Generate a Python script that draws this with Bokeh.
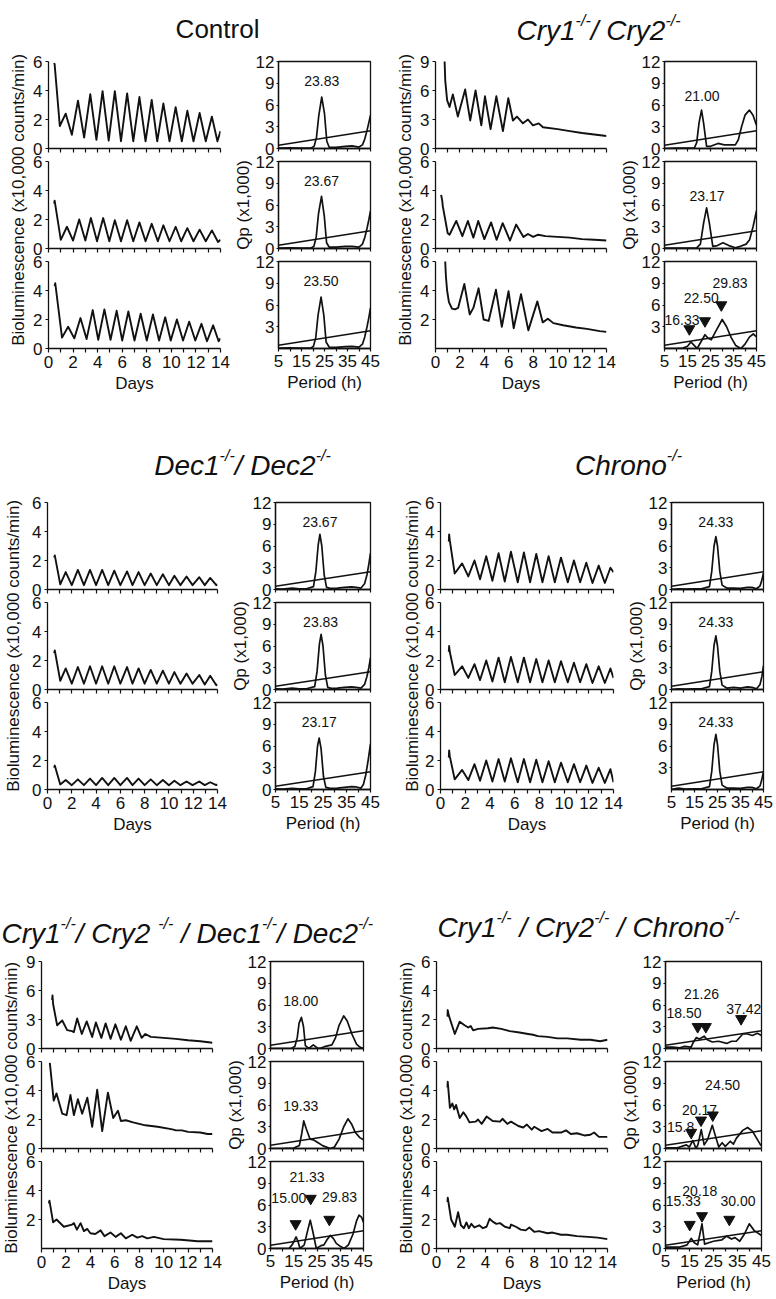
import math
from bokeh.plotting import figure
from bokeh.layouts import row, column
from bokeh.models import Range1d, FixedTicker
from bokeh.core.properties import value
from bokeh.embed import file_html
from bokeh.resources import INLINE

# ======================= DATA =======================
days_ticks = [0, 2, 4, 6, 8, 10, 12, 14]
days_minor = [1, 3, 5, 7, 9, 11, 13]
period_ticks = [5, 15, 25, 35, 45]
period_minor = [10, 20, 30, 40]
qp_ticks = [0, 3, 6, 9, 12]
qp_ticks_no0 = [3, 6, 9, 12]
sig_h = [5, 45]
sig_qp = [0.45, 2.45]

# ---- Control ----
ctrl_t1_day = [0.46, 0.5, 0.92, 1.4, 1.9, 2.4, 2.9, 3.4, 3.9, 4.4, 4.9, 5.4, 5.9, 6.4, 6.9, 7.4, 7.9, 8.4, 8.85, 9.35, 9.85, 10.35, 10.85, 11.3, 11.8, 12.3, 12.8, 13.3, 13.75, 14.0]
ctrl_t1_val = [5.9, 5.8, 1.55, 2.4, 0.95, 3.3, 0.75, 3.75, 0.6, 3.95, 0.55, 3.95, 0.5, 3.8, 0.5, 3.55, 0.5, 3.35, 0.5, 3.1, 0.5, 2.85, 0.5, 2.6, 0.5, 2.45, 0.5, 2.2, 0.5, 1.2]
ctrl_t2_day = [0.46, 0.5, 1.0, 1.5, 2.0, 2.5, 3.0, 3.45, 3.95, 4.45, 4.95, 5.4, 5.9, 6.4, 6.9, 7.4, 7.9, 8.4, 8.9, 9.35, 9.85, 10.35, 10.8, 11.3, 11.8, 12.3, 12.8, 13.3, 13.8, 14.0]
ctrl_t2_val = [3.1, 3.3, 0.6, 1.5, 0.55, 2.0, 0.55, 2.1, 0.5, 2.1, 0.5, 1.95, 0.5, 1.95, 0.5, 1.8, 0.5, 1.7, 0.5, 1.6, 0.5, 1.5, 0.5, 1.4, 0.5, 1.3, 0.5, 1.25, 0.45, 0.6]
ctrl_t3_day = [0.5, 0.55, 1.1, 1.6, 2.1, 2.6, 3.1, 3.6, 4.05, 4.55, 5.05, 5.55, 6.0, 6.5, 7.0, 7.5, 8.0, 8.5, 9.0, 9.5, 9.95, 10.45, 10.95, 11.45, 11.95, 12.45, 12.9, 13.4, 13.85, 14.0]
ctrl_t3_val = [4.3, 4.5, 0.75, 1.5, 0.7, 2.1, 0.65, 2.65, 0.6, 2.7, 0.6, 2.6, 0.55, 2.55, 0.55, 2.4, 0.55, 2.35, 0.55, 2.15, 0.55, 2.0, 0.55, 1.85, 0.55, 1.7, 0.5, 1.6, 0.5, 0.7]
ctrl_p1_h = [5, 10, 15, 19, 20.5, 21.5, 22.5, 23.8, 25, 26, 27, 30, 34, 37, 40, 41.5, 42.5, 43.5, 44.3, 45]
ctrl_p1_qp = [0.05, 0.1, 0.05, 0.05, 0.3, 1.5, 4.5, 7.1, 4.8, 1.0, 0.2, 0.15, 0.3, 0.35, 0.2, 0.5, 1.3, 2.5, 3.6, 4.6]
ctrl_p2_h = [5, 10, 15, 19, 20.4, 21.4, 22.4, 23.7, 24.9, 25.9, 27, 30, 34, 37, 40, 41.5, 42.5, 43.5, 44.3, 45]
ctrl_p2_qp = [0.05, 0.1, 0.05, 0.05, 0.3, 1.6, 4.8, 7.2, 4.5, 0.8, 0.2, 0.2, 0.3, 0.3, 0.2, 0.6, 1.5, 2.8, 4.0, 5.2]
ctrl_p3_h = [5, 10, 15, 19, 20.2, 21.2, 22.2, 23.5, 24.7, 25.7, 27, 30, 34, 37, 40, 41.5, 42.5, 43.5, 44.3, 45]
ctrl_p3_qp = [0.05, 0.1, 0.05, 0.05, 0.3, 1.5, 4.6, 7.1, 4.6, 0.9, 0.2, 0.15, 0.25, 0.3, 0.2, 0.6, 1.6, 3.0, 4.3, 5.6]
ctrl_peak_text = ["23.83", "23.67", "23.50"]
ctrl_peak_h = [23.8, 23.7, 23.5]

# ---- Cry1-/-/Cry2-/- ----
cry_t1_day = [0.74, 0.8, 0.95, 1.15, 1.42, 1.83, 2.43, 2.84, 3.28, 3.75, 4.05, 4.51, 4.98, 5.52, 5.96, 6.34, 6.67, 7.16, 7.57, 7.98, 8.45, 8.8, 10.0, 11.0, 12.0, 13.0, 14.0]
cry_t1_val = [9.2, 7.0, 5.0, 4.3, 5.6, 3.3, 6.1, 2.9, 6.0, 2.4, 5.4, 2.0, 5.4, 1.8, 5.2, 2.9, 3.3, 2.6, 3.0, 2.4, 2.6, 2.2, 2.0, 1.8, 1.6, 1.45, 1.3]
cry_t2_day = [0.46, 0.55, 0.6, 1.0, 1.15, 1.7, 2.2, 2.65, 3.1, 3.5, 4.0, 4.55, 5.0, 5.5, 6.1, 6.6, 7.2, 7.57, 8.0, 8.4, 9.0, 10.0, 11.0, 12.0, 13.0, 14.0]
cry_t2_val = [3.7, 3.3, 2.9, 1.05, 0.95, 1.9, 0.85, 1.9, 0.75, 1.9, 0.65, 1.8, 0.6, 1.75, 0.55, 1.65, 0.8, 1.0, 0.8, 0.95, 0.85, 0.8, 0.75, 0.65, 0.6, 0.55]
cry_t3_day = [0.78, 0.85, 0.95, 1.1, 1.35, 1.6, 1.85, 2.36, 2.8, 3.1, 3.53, 3.94, 4.35, 4.95, 5.43, 5.98, 6.4, 7.0, 7.6, 8.34, 8.78, 9.2, 9.65, 10.45, 11.5, 12.4, 13.45, 14.0]
cry_t3_val = [6.3, 5.0, 4.0, 3.2, 2.75, 2.7, 2.8, 4.45, 2.35, 2.8, 4.15, 2.0, 1.9, 4.05, 1.5, 3.95, 1.4, 3.75, 1.25, 3.25, 1.8, 2.05, 1.75, 1.6, 1.45, 1.35, 1.2, 1.15]
cry_p1_h = [5, 10, 15, 18, 19, 20, 21.1, 22, 23.3, 25, 28.3, 31, 35.8, 37.1, 38.5, 40, 41.9, 43.5, 45]
cry_p1_qp = [0.0, 0.05, 0.05, 0.1, 0.8, 3.5, 5.3, 3.5, 0.3, 0.3, 0.7, 0.5, 0.5, 1.2, 3.0, 4.6, 5.3, 4.6, 3.2]
cry_p2_h = [5, 10, 15, 19, 20.6, 22, 23.3, 24.5, 26, 28, 30.4, 33, 35.8, 38, 40.5, 42, 43.5, 45]
cry_p2_qp = [0.05, 0.05, 0.05, 0.1, 0.6, 3.5, 5.6, 3.5, 0.3, 0.4, 0.8, 0.4, 0.1, 0.3, 0.6, 1.2, 3.0, 5.2]
cry_p3_h = [5, 10, 13, 15, 16.5, 18, 19.2, 21, 22.6, 24, 25.3, 27.5, 30.1, 32, 34, 36, 38.2, 40, 42, 43.6, 45]
cry_p3_qp = [0.0, 0.0, 0.05, 0.3, 0.9, 0.4, 0.0, 1.0, 1.9, 1.4, 1.2, 2.5, 4.0, 3.0, 1.5, 0.4, 0.0, 0.6, 1.6, 2.0, 1.6]
cry_p1_text = ["21.00"]
cry_p1_text_h = [21.3]
cry_p1_text_qp = [7.3]
cry_p2_text = ["23.17"]
cry_p2_text_h = [23.5]
cry_p2_text_qp = [7.3]
cry_p3_text = ["16.33", "22.50", "29.83"]
cry_p3_text_h = [12.6, 21.0, 33.5]
cry_p3_text_qp = [3.9, 6.9, 9.1]
cry_p3_mark_h = [15.8, 22.6, 29.7]
cry_p3_mark_qp = [2.7, 3.8, 6.0]

# ---- Dec1-/-/Dec2-/- ----
dec_day = [0.55, 0.6, 1.05, 1.5, 2.0, 2.5, 3.0, 3.5, 4.0, 4.5, 5.0, 5.5, 6.0, 6.55, 7.0, 7.5, 8.0, 8.5, 9.0, 9.5, 10.0, 10.45, 10.95, 11.45, 11.95, 12.5, 12.95, 13.4, 13.9, 14.0]
dec_t1_val = [2.2, 2.35, 0.35, 1.2, 0.3, 1.35, 0.3, 1.35, 0.3, 1.35, 0.3, 1.3, 0.3, 1.25, 0.3, 1.2, 0.3, 1.1, 0.3, 1.05, 0.3, 0.95, 0.3, 0.9, 0.3, 0.85, 0.3, 0.8, 0.3, 0.35]
dec_t2_val = [2.5, 2.7, 0.6, 1.45, 0.4, 1.55, 0.4, 1.6, 0.4, 1.6, 0.4, 1.6, 0.4, 1.55, 0.4, 1.45, 0.4, 1.35, 0.4, 1.3, 0.4, 1.2, 0.4, 1.1, 0.4, 1.0, 0.35, 0.95, 0.3, 0.35]
dec_t3_val = [1.5, 1.65, 0.35, 0.65, 0.3, 0.7, 0.3, 0.75, 0.3, 0.8, 0.3, 0.8, 0.3, 0.8, 0.3, 0.75, 0.3, 0.7, 0.3, 0.65, 0.3, 0.6, 0.3, 0.55, 0.3, 0.55, 0.3, 0.5, 0.3, 0.35]
dec_p1_h = [5, 8, 12, 15, 18, 21, 22, 23, 23.7, 24.5, 25.5, 26.5, 28, 31, 34, 37, 39, 41, 42.5, 43.5, 44.3, 45]
dec_p1_qp = [0.1, 0.05, 0.2, 0.1, 0.1, 0.4, 2.5, 6.2, 7.6, 6.0, 2.0, 0.3, 0.15, 0.2, 0.3, 0.35, 0.3, 0.2, 0.8, 2.0, 3.5, 5.0]
dec_p2_h = [5, 8, 12, 15, 18, 21.5, 22.5, 23.5, 24.2, 25, 26, 27, 28.5, 31, 34, 37, 39, 41, 42.5, 43.5, 44.3, 45]
dec_p2_qp = [0.1, 0.05, 0.2, 0.1, 0.1, 0.4, 2.5, 6.3, 7.6, 6.0, 2.0, 0.3, 0.15, 0.2, 0.3, 0.35, 0.3, 0.2, 0.7, 1.8, 3.0, 4.4]
dec_p3_h = [5, 8, 12, 15, 18, 20.8, 21.8, 22.7, 23.4, 24.2, 25.2, 26.2, 28, 31, 34, 37, 39, 41, 42, 43, 44, 45]
dec_p3_qp = [0.1, 0.05, 0.15, 0.1, 0.1, 0.4, 2.5, 6.0, 7.1, 5.6, 1.8, 0.3, 0.15, 0.2, 0.3, 0.4, 0.35, 0.2, 0.7, 2.0, 4.0, 6.3]
dec_peak_text = ["23.67", "23.83", "23.17"]
dec_peak_h = [23.7, 24.0, 23.4]

# ---- Chrono-/- ----
chr_day = [0.67, 0.7, 0.75, 1.15, 1.75, 2.25, 2.75, 3.2, 3.7, 4.2, 4.7, 5.2, 5.7, 6.25, 6.75, 7.25, 7.75, 8.25, 8.75, 9.25, 9.75, 10.3, 10.8, 11.3, 11.8, 12.3, 12.8, 13.3, 13.75, 14.0]
chr_t1_val = [3.3, 3.8, 3.4, 1.1, 1.8, 0.9, 2.0, 0.7, 2.3, 0.6, 2.5, 0.55, 2.6, 0.5, 2.55, 0.5, 2.45, 0.5, 2.3, 0.5, 2.2, 0.5, 2.0, 0.5, 1.85, 0.45, 1.65, 0.45, 1.5, 1.2]
chr_t2_val = [2.6, 3.0, 2.6, 1.0, 1.6, 0.8, 1.75, 0.65, 2.0, 0.55, 2.2, 0.5, 2.25, 0.5, 2.2, 0.5, 2.1, 0.5, 2.0, 0.5, 1.95, 0.5, 1.85, 0.5, 1.75, 0.45, 1.6, 0.45, 1.45, 0.8]
chr_t3_val = [2.2, 2.7, 2.3, 0.7, 1.35, 0.65, 1.75, 0.6, 2.0, 0.55, 2.1, 0.55, 2.15, 0.5, 2.1, 0.5, 2.05, 0.5, 1.95, 0.5, 1.85, 0.5, 1.75, 0.5, 1.65, 0.45, 1.5, 0.45, 1.4, 0.5]
chr_p_h = [5, 8, 11, 15, 18, 21.5, 22.5, 23.5, 24.3, 25, 26, 27, 29, 32, 35, 38, 40, 42, 43.5, 44.3, 45]
chr_p1_qp = [0.0, 0.1, 0.05, 0.1, 0.1, 0.4, 2.5, 6.0, 7.3, 6.0, 2.5, 0.6, 0.2, 0.2, 0.15, 0.3, 0.3, 0.1, 0.5, 1.3, 2.3]
chr_p2_qp = [0.0, 0.1, 0.05, 0.1, 0.1, 0.4, 2.5, 6.1, 7.4, 6.0, 2.5, 0.6, 0.2, 0.3, 0.2, 0.35, 0.3, 0.1, 0.7, 1.8, 3.3]
chr_p3_qp = [0.0, 0.2, 0.05, 0.1, 0.1, 0.4, 2.5, 6.2, 7.6, 6.2, 2.5, 0.6, 0.2, 0.2, 0.15, 0.3, 0.3, 0.1, 0.5, 1.4, 2.5]
chr_peak_text = ["24.33", "24.33", "24.33"]
chr_peak_h = [24.3, 24.3, 24.3]

# ---- Cry1-/-/Cry2-/-/Dec1-/-/Dec2-/- ----
cd_t1_day = [0.87, 0.9, 0.95, 1.28, 1.7, 2.1, 2.5, 2.65, 2.92, 3.3, 3.7, 4.15, 4.45, 4.9, 5.25, 5.65, 6.05, 6.5, 6.9, 7.3, 7.8, 8.2, 8.5, 8.95, 10.0, 11.0, 12.0, 13.0, 14.0]
cd_t1_val = [5.0, 5.5, 4.6, 2.4, 2.9, 1.9, 1.8, 1.7, 3.1, 1.5, 2.8, 1.2, 2.7, 1.1, 2.6, 1.0, 2.5, 0.9, 2.3, 0.8, 2.3, 1.1, 1.5, 1.2, 1.1, 1.0, 0.85, 0.75, 0.6]
cd_t2_day = [0.68, 0.72, 1.0, 1.23, 1.7, 2.05, 2.37, 2.65, 2.98, 3.33, 3.75, 4.15, 4.56, 4.97, 5.44, 5.87, 6.26, 6.5, 6.9, 7.5, 8.5, 9.5, 10.5, 10.8, 11.0, 11.5, 12.0, 13.0, 13.6, 14.0]
cd_t2_val = [5.9, 5.6, 3.3, 3.8, 2.4, 2.3, 3.7, 2.3, 3.4, 2.4, 3.5, 1.5, 4.05, 1.2, 3.85, 2.1, 2.6, 1.9, 1.95, 1.8, 1.6, 1.5, 1.35, 1.3, 1.25, 1.25, 1.15, 1.1, 1.0, 1.0]
cd_t3_day = [0.6, 0.65, 0.95, 1.23, 1.83, 2.5, 2.65, 2.9, 3.2, 3.47, 3.75, 4.0, 4.4, 4.84, 5.16, 5.65, 6.07, 6.5, 6.9, 7.43, 7.84, 8.25, 8.66, 9.2, 10.0, 11.4, 12.8, 14.0]
cd_t3_val = [3.1, 3.3, 1.8, 2.0, 1.5, 1.65, 1.75, 1.3, 1.75, 1.2, 1.35, 1.05, 1.0, 1.25, 0.85, 1.1, 0.8, 1.05, 0.7, 0.95, 0.75, 0.85, 0.7, 0.8, 0.65, 0.6, 0.5, 0.5]
cd_p1_h = [5, 10, 14, 15.5, 16.5, 17.3, 18.3, 19.2, 20, 21.5, 23.4, 25.4, 27, 28.7, 31.4, 33, 34.5, 36.5, 38, 40, 42, 43.4, 45]
cd_p1_qp = [0.0, 0.0, 0.0, 0.3, 1.5, 3.5, 4.3, 3.0, 0.4, 0.0, 0.5, 0.0, 0.1, 0.3, 0.5, 1.5, 3.2, 4.5, 3.8, 2.0, 0.6, 0.2, 0.0]
cd_p2_h = [5, 10, 15, 17.4, 18.4, 19.3, 20.3, 22, 23.4, 25.5, 27.4, 30.7, 32.5, 34.5, 36.5, 38.3, 40, 41.5, 43.4, 45]
cd_p2_qp = [0.0, 0.0, 0.05, 0.4, 2.0, 3.8, 2.8, 1.3, 1.2, 0.8, 0.4, 0.0, 0.2, 1.3, 3.0, 4.1, 3.3, 2.2, 1.5, 1.2]
cd_p3_h = [5, 10, 13, 14.5, 16, 16.8, 17.7, 19.5, 21, 22.1, 23.3, 24.7, 26.7, 28, 29.3, 30.7, 32, 33.3, 35, 36.7, 38.5, 40.5, 42, 43.1, 44.2, 45]
cd_p3_qp = [0.0, 0.0, 0.0, 0.6, 1.6, 1.0, 0.0, 0.5, 2.5, 3.9, 2.2, 0.0, 0.4, 0.5, 1.2, 1.8, 1.4, 0.7, 0.3, 0.0, 0.5, 2.0, 3.8, 4.6, 4.3, 3.6]
cd_p1_text = ["18.00"]
cd_p1_text_h = [18.0]
cd_p1_text_qp = [6.5]
cd_p2_text = ["19.33"]
cd_p2_text_h = [18.0]
cd_p2_text_qp = [5.8]
cd_p3_text = ["15.00", "21.33", "29.83"]
cd_p3_text_h = [12.9, 20.7, 34.7]
cd_p3_text_qp = [6.9, 9.8, 7.1]
cd_p3_mark_h = [15.8, 22.3, 30.3]
cd_p3_mark_qp = [3.4, 6.9, 4.0]

# ---- Cry1-/-/Cry2-/-/Chrono-/- ----
cc_t1_day = [0.9, 0.92, 1.0, 1.5, 1.9, 2.3, 2.6, 2.8, 3.0, 3.4, 4.2, 4.6, 5.3, 6.0, 6.8, 7.5, 7.9, 8.3, 9.1, 9.9, 10.7, 11.8, 12.6, 13.4, 14.0]
cc_t1_val = [2.2, 2.65, 2.3, 1.0, 1.85, 1.6, 1.45, 1.55, 1.25, 1.35, 1.4, 1.45, 1.35, 1.2, 1.1, 1.0, 0.95, 0.85, 0.8, 0.7, 0.7, 0.6, 0.6, 0.5, 0.6]
cc_t2_day = [0.9, 0.92, 1.1, 1.3, 1.45, 1.6, 1.9, 2.2, 2.45, 2.7, 3.2, 3.4, 3.7, 4.1, 4.6, 5.2, 5.4, 5.8, 6.1, 6.7, 7.1, 7.4, 7.8, 8.0, 8.6, 9.1, 9.5, 10.2, 10.6, 11.0, 11.5, 12.1, 12.6, 12.9, 13.3, 14.0]
cc_t2_val = [4.2, 4.6, 2.8, 3.1, 2.7, 3.0, 2.1, 2.5, 2.2, 1.8, 1.85, 2.0, 1.7, 2.2, 1.9, 1.85, 2.05, 1.7, 1.85, 1.55, 1.45, 1.65, 1.3, 1.5, 1.2, 1.35, 1.1, 1.1, 1.25, 1.0, 1.05, 0.9, 0.95, 1.1, 0.8, 0.8]
cc_t3_day = [0.9, 0.92, 1.2, 1.5, 1.77, 2.0, 2.25, 2.45, 2.65, 2.85, 3.1, 3.5, 3.8, 4.1, 4.35, 4.6, 4.9, 5.2, 5.6, 6.0, 6.1, 6.5, 6.9, 7.3, 7.6, 8.0, 8.4, 9.1, 9.5, 10.2, 10.7, 11.5, 12.4, 13.2, 14.0]
cc_t3_val = [3.2, 3.5, 2.0, 1.5, 2.5, 1.6, 1.4, 1.8, 1.4, 1.7, 1.45, 1.6, 1.4, 1.5, 2.05, 1.85, 1.7, 1.75, 1.5, 1.4, 1.65, 1.5, 1.3, 1.25, 1.45, 1.15, 1.2, 1.05, 1.1, 0.95, 0.95, 0.85, 0.8, 0.75, 0.65]
cc_p1_h = [5, 8, 11, 13, 15.7, 16.5, 17.8, 19.1, 21.1, 22.4, 24.5, 27.1, 30.5, 32.5, 34.5, 37.2, 39.2, 41.2, 43.3, 45]
cc_p1_qp = [0.2, 0.2, 0.1, 0.3, 0.2, 0.8, 1.5, 1.3, 1.7, 1.2, 0.9, 1.0, 0.7, 1.0, 1.0, 2.0, 2.0, 1.8, 2.1, 1.8]
cc_p2_h = [5, 10, 13.7, 14.9, 16.4, 17.7, 18.5, 19.9, 21.1, 22.5, 24.5, 26, 27.2, 28.6, 29.9, 32, 33.3, 34.5, 37.2, 39.2, 41.2, 43, 44.6, 45]
cc_p2_qp = [0.1, 0.1, 0.5, 0.2, 1.1, 0.0, 0.5, 2.6, 0.5, 1.2, 3.2, 1.5, 0.2, 0.8, 0.3, 1.0, 0.6, 1.4, 2.5, 2.9, 2.4, 1.4, 0.5, 0.4]
cc_p3_h = [5, 8, 11, 13, 14, 15.7, 17, 18.4, 20.2, 21.3, 23, 25, 28.5, 30.5, 32.5, 34, 35.9, 37.9, 39.9, 41.9, 45]
cc_p3_qp = [0.2, 0.2, 0.2, 0.4, 0.5, 1.4, 0.8, 0.5, 3.4, 0.6, 0.8, 1.0, 1.2, 1.7, 1.3, 1.5, 1.0, 2.0, 3.4, 2.5, 1.8]
cc_p1_text = ["18.50", "21.26", "37.42"]
cc_p1_text_h = [12.7, 20.0, 37.6]
cc_p1_text_qp = [4.9, 7.45, 5.4]
cc_p1_mark_h = [18.4, 21.8, 36.5]
cc_p1_mark_qp = [3.0, 3.0, 4.1]
cc_p2_text = ["15.8", "20.17", "24.50"]
cc_p2_text_h = [11.3, 19.2, 28.8]
cc_p2_text_qp = [3.0, 5.3, 8.8]
cc_p2_mark_h = [15.7, 19.8, 24.7]
cc_p2_mark_qp = [2.2, 3.9, 4.6]
cc_p3_text = ["20.18", "15.33", "30.00"]
cc_p3_text_h = [19.3, 12.4, 35.2]
cc_p3_text_qp = [8.0, 6.6, 6.6]
cc_p3_mark_h = [15.1, 20.2, 31.6]
cc_p3_mark_qp = [3.3, 4.5, 4.0]

# titles: (main text, superscript)
title_ctrl = [("Control", "")]
title_cry = [("Cry1", "-/-"), ("/ Cry2", "-/-")]
title_dec = [("Dec1", "-/-"), ("/ Dec2", "-/-")]
title_chr = [("Chrono", "-/-")]
title_cd = [("Cry1", "-/-"), ("/ Cry2 ", "-/-"), (" / Dec1", "-/-"), ("/ Dec2", "-/-")]
title_cc = [("Cry1", "-/-"), (" / Cry2", "-/-"), (" / Chrono", "-/-")]
BIO_LABEL = "Bioluminescence  (x10,000 counts/min)"
QP_LABEL = "Qp (x1,000)"

# ======================= STYLE / LAYOUT =======================
INK = "#111111"
FONT = "Liberation Sans"
TOP_B, FH, PITCH = 7, 87, 100
LAST_B = 45      # bottom border of the last row (in flow)
LAST_B_REAL = 49 # drawn bottom border of the last row (overlaps below)
EXT = 5          # extra transparent border, overlapped with the neighbour row
TOTAL_W = 776

AW = {'C': .722, 'r': .333, 'y': .5, '1': .556, '2': .556, '/': .278, ' ': .278,
      'D': .722, 'e': .556, 'c': .5, 'h': .556, 'o': .556, 'n': .556, 't': .278,
      'l': .222, '-': .333}


def text_w(s, size):
    return sum(AW.get(ch, 0.556) for ch in s) * size


def style_axis(ax, tick_out, standoff, labels=True):
    ax.axis_line_color = INK
    ax.axis_line_width = 1.3
    ax.major_tick_line_color = INK
    ax.minor_tick_line_color = INK
    ax.major_tick_line_width = 1.2
    ax.minor_tick_line_width = 1.2
    ax.major_tick_in = 0
    ax.minor_tick_in = 0
    ax.major_tick_out = tick_out
    ax.minor_tick_out = tick_out
    ax.major_label_standoff = standoff
    ax.major_label_text_font = FONT
    ax.major_label_text_font_size = "17px"
    ax.major_label_text_color = INK if labels else None


def style_axis_label(ax, text, standoff=0):
    ax.axis_label = text
    ax.axis_label_text_font = FONT
    ax.axis_label_text_font_size = "17px"
    ax.axis_label_text_font_style = "normal"
    ax.axis_label_text_color = INK
    ax.axis_label_standoff = standoff


def row_geometry(k):
    """top border, bottom border and CSS margins of the k-th stacked row."""
    if k < 2:
        return TOP_B + EXT, 6 + EXT, {"margin-top": "-%dpx" % EXT, "margin-bottom": "-%dpx" % EXT}
    return TOP_B + EXT, LAST_B_REAL, {"margin-top": "-%dpx" % EXT,
                                      "margin-bottom": "-%dpx" % (LAST_B_REAL - LAST_B)}


def base_fig(w, h, xr, yr, left, right, top, bottom, styles):
    p = figure(width=w, height=h, x_range=xr, y_range=yr, output_backend="svg",
               toolbar_location=None, title=None,
               min_border_left=left, min_border_right=right,
               min_border_top=top, min_border_bottom=bottom, styles=styles)
    p.grid.visible = False
    p.background_fill_color = None
    p.border_fill_color = None
    return p


def blank_fig(w, h):
    p = figure(width=w, height=h, x_range=Range1d(0, w), y_range=Range1d(0, h),
               x_axis_type=None, y_axis_type=None, output_backend="svg",
               toolbar_location=None, title=None, min_border=0)
    p.outline_line_color = None
    p.background_fill_color = None
    p.border_fill_color = None
    return p


def trace_fig(day, val, ymax, yticks, k, g):
    fw = g['tx1'] - g['tx0']
    right = g['b2'] - g['tx1']
    top, bottom, styles = row_geometry(k)
    p = base_fig(g['tl'] + fw + right, top + FH + bottom, Range1d(0, 14), Range1d(0, ymax),
                 g['tl'], right, top, bottom, styles)
    p.outline_line_color = None
    p.line(day, val, line_color=INK, line_width=1.9, line_join="round")
    xa, ya = p.xaxis[0], p.yaxis[0]
    xa.ticker = FixedTicker(ticks=days_ticks, minor_ticks=days_minor)
    style_axis(xa, 4, 3, labels=(k == 2))
    ya.ticker = FixedTicker(ticks=yticks)
    style_axis(ya, 3, 3)
    if k == 2:
        style_axis_label(xa, "Days", 3)
    return p


def perio_fig(h, qp, yticks, ann, k, g):
    left = g['px0'] - g['b2']
    fw = g['px1'] - g['px0']
    right = g['xe'] - g['px1']
    top, bottom, styles = row_geometry(k)
    p = base_fig(left + fw + right, top + FH + bottom, Range1d(5, 45), Range1d(0, 12),
                 left, right, top, bottom, styles)
    p.outline_line_color = INK
    p.outline_line_width = 1.3
    p.line(sig_h, sig_qp, line_color=INK, line_width=1.5)
    p.line(h, qp, line_color=INK, line_width=1.7, line_join="round")
    texts, th, tq, mh, mq = ann
    if texts:
        p.text(x=th, y=tq, text=texts, text_align="center", text_baseline="middle",
               text_font=value(FONT), text_font_size="14px", text_color=INK)
    if mh:
        p.scatter(mh, mq, marker="inverted_triangle", size=11, color=INK)
    xa, ya = p.xaxis[0], p.yaxis[0]
    xa.ticker = FixedTicker(ticks=period_ticks, minor_ticks=period_minor)
    style_axis(xa, 3, 3, labels=(k == 2))
    ya.ticker = FixedTicker(ticks=yticks)
    style_axis(ya, 2, 2)
    if k == 2:
        style_axis_label(xa, "Period (h)", 3)
    if k == 1:
        style_axis_label(ya, QP_LABEL, 0)
    return p


def ylab_fig(w, h, cx, cy_top):
    p = blank_fig(w, h)
    p.text(x=[cx], y=[h - cy_top], text=[BIO_LABEL], angle=math.pi / 2,
           text_align="center", text_baseline="middle",
           text_font=value(FONT), text_font_size="17px", text_color=INK)
    return p


def title_fig(h, titles):
    p = blank_fig(TOTAL_W, h)
    for parts, cx, base, italic, msize in titles:
        ssize = 16
        total = sum(text_w(m, msize) + text_w(s, ssize) for m, s in parts)
        x = max(cx - total / 2.0, 1)
        mx, my, mt, sx, sy, st = [], [], [], [], [], []
        for m, s in parts:
            lead = len(m) - len(m.lstrip(" "))
            mx.append(x + text_w(" " * lead, msize)); my.append(h - base); mt.append(m.strip(" "))
            x += text_w(m, msize)
            if s:
                sx.append(x); sy.append(h - base + 10); st.append(s)
                x += text_w(s, ssize)
        style = "italic" if italic else "normal"
        p.text(x=mx, y=my, text=mt, text_align="left", text_baseline="alphabetic",
               text_font=value(FONT), text_font_size="%dpx" % msize,
               text_font_style=style, text_color=INK)
        if st:
            p.text(x=sx, y=sy, text=st, text_align="left", text_baseline="alphabetic",
                   text_font=value(FONT), text_font_size="%dpx" % ssize,
                   text_font_style=style, text_color=INK)
    return p


def group_figs(spec, g, band):
    rows_h = 2 * PITCH + TOP_B + FH + LAST_B
    ylab = ylab_fig(g['tx0'] - g['tl'] - g['xs'], rows_h, g['ylab'] - g['xs'],
                    band['ylab_cy'] - (band['frame1'] - TOP_B))
    traces = column(*[trace_fig(spec['traces'][k][0], spec['traces'][k][1], spec['tmax'][k],
                                spec['tticks'][k], k, g) for k in range(3)])
    perios = column(*[perio_fig(spec['perios'][k][0], spec['perios'][k][1], spec['pticks'][k],
                                spec['ann'][k], k, g) for k in range(3)])
    return [ylab, traces, perios]


def build_band(band, specs, geoms, titles):
    th = band['frame1'] - TOP_B - band['top']
    local_titles = [(pt, cx, base - band['top'], it, ms) for pt, cx, base, it, ms in titles]
    tfig = title_fig(th, local_titles)
    figs = []
    for spec, g in zip(specs, geoms):
        figs += group_figs(spec, g, band)
    return column(tfig, row(*figs))


def single(texts, hs, qps):
    return (texts, hs, qps, [], [])


t6 = [0, 2, 4, 6]
t9 = [0, 3, 6, 9]
t6n = [2, 4, 6]

spec_ctrl = dict(
    traces=[(ctrl_t1_day, ctrl_t1_val), (ctrl_t2_day, ctrl_t2_val), (ctrl_t3_day, ctrl_t3_val)],
    tmax=[6, 6, 6], tticks=[t6, t6, t6],
    perios=[(ctrl_p1_h, ctrl_p1_qp), (ctrl_p2_h, ctrl_p2_qp), (ctrl_p3_h, ctrl_p3_qp)],
    pticks=[qp_ticks, qp_ticks, qp_ticks_no0],
    ann=[single([ctrl_peak_text[i]], [ctrl_peak_h[i]], [9.3]) for i in range(3)])
spec_cry = dict(
    traces=[(cry_t1_day, cry_t1_val), (cry_t2_day, cry_t2_val), (cry_t3_day, cry_t3_val)],
    tmax=[9, 6, 6], tticks=[t9, t6, t6n],
    perios=[(cry_p1_h, cry_p1_qp), (cry_p2_h, cry_p2_qp), (cry_p3_h, cry_p3_qp)],
    pticks=[qp_ticks, qp_ticks, qp_ticks_no0],
    ann=[single(cry_p1_text, cry_p1_text_h, cry_p1_text_qp),
         single(cry_p2_text, cry_p2_text_h, cry_p2_text_qp),
         (cry_p3_text, cry_p3_text_h, cry_p3_text_qp, cry_p3_mark_h, cry_p3_mark_qp)])
spec_dec = dict(
    traces=[(dec_day, dec_t1_val), (dec_day, dec_t2_val), (dec_day, dec_t3_val)],
    tmax=[6, 6, 6], tticks=[t6, t6, t6],
    perios=[(dec_p1_h, dec_p1_qp), (dec_p2_h, dec_p2_qp), (dec_p3_h, dec_p3_qp)],
    pticks=[qp_ticks, qp_ticks, qp_ticks],
    ann=[single([dec_peak_text[i]], [dec_peak_h[i]], [9.3]) for i in range(3)])
spec_chr = dict(
    traces=[(chr_day, chr_t1_val), (chr_day, chr_t2_val), (chr_day, chr_t3_val)],
    tmax=[6, 6, 6], tticks=[t6, t6, t6],
    perios=[(chr_p_h, chr_p1_qp), (chr_p_h, chr_p2_qp), (chr_p_h, chr_p3_qp)],
    pticks=[qp_ticks, qp_ticks, qp_ticks_no0],
    ann=[single([chr_peak_text[i]], [chr_peak_h[i]], [9.3]) for i in range(3)])
spec_cd = dict(
    traces=[(cd_t1_day, cd_t1_val), (cd_t2_day, cd_t2_val), (cd_t3_day, cd_t3_val)],
    tmax=[9, 6, 6], tticks=[t9, t6, t6n],
    perios=[(cd_p1_h, cd_p1_qp), (cd_p2_h, cd_p2_qp), (cd_p3_h, cd_p3_qp)],
    pticks=[qp_ticks, qp_ticks, qp_ticks],
    ann=[single(cd_p1_text, cd_p1_text_h, cd_p1_text_qp),
         single(cd_p2_text, cd_p2_text_h, cd_p2_text_qp),
         (cd_p3_text, cd_p3_text_h, cd_p3_text_qp, cd_p3_mark_h, cd_p3_mark_qp)])
spec_cc = dict(
    traces=[(cc_t1_day, cc_t1_val), (cc_t2_day, cc_t2_val), (cc_t3_day, cc_t3_val)],
    tmax=[6, 6, 6], tticks=[t6, t6, t6],
    perios=[(cc_p1_h, cc_p1_qp), (cc_p2_h, cc_p2_qp), (cc_p3_h, cc_p3_qp)],
    pticks=[qp_ticks, qp_ticks, qp_ticks],
    ann=[(cc_p1_text, cc_p1_text_h, cc_p1_text_qp, cc_p1_mark_h, cc_p1_mark_qp),
         (cc_p2_text, cc_p2_text_h, cc_p2_text_qp, cc_p2_mark_h, cc_p2_mark_qp),
         (cc_p3_text, cc_p3_text_h, cc_p3_text_qp, cc_p3_mark_h, cc_p3_mark_qp)])


def G(xs, ylab, tx0, tx1, px0, px1, xe, tl=20):
    return dict(xs=xs, ylab=ylab, tx0=tx0, tx1=tx1, b2=tx1 + 10, px0=px0, px1=px1, xe=xe, tl=tl)


band_top = build_band(
    dict(top=0, frame1=61, ylab_cy=197),
    [spec_ctrl, spec_cry],
    [G(0, 18, 48, 220, 272, 370, 384), G(384, 405, 435, 606, 658, 756, 770)],
    [(title_ctrl, 217, 28, False, 26), (title_cry, 598, 30, True, 28)])
band_mid = build_band(
    dict(top=393, frame1=502, ylab_cy=643),
    [spec_dec, spec_chr],
    [G(0, 13, 47, 217, 272, 370, 384), G(384, 412, 439, 613, 665, 763, 776, tl=17)],
    [(title_dec, 242, 465, True, 28), (title_chr, 628, 465, True, 28)])
band_bot = build_band(
    dict(top=834, frame1=961, ylab_cy=1105),
    [spec_cd, spec_cc],
    [G(0, 11, 41, 212, 264, 363, 378), G(378, 406, 436, 607, 662, 761, 774)],
    [(title_cd, 186, 933, True, 28), (title_cc, 588, 927, True, 28)])

layout = column(band_top, band_mid, band_bot)
open("out.html", "w").write(file_html(layout, INLINE, title="Bioluminescence rhythms"))
